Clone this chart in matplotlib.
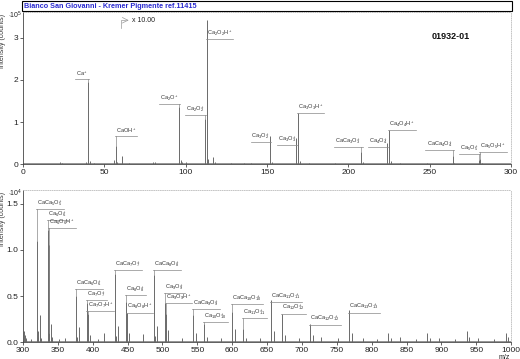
import matplotlib
matplotlib.use("Agg")
import matplotlib.pyplot as plt
from matplotlib.patches import Rectangle

plt.rcParams['font.family'] = ['Liberation Sans', 'DejaVu Sans']
plt.rcParams['mathtext.fontset'] = 'custom'
plt.rcParams['mathtext.rm'] = 'Liberation Sans'
plt.rcParams['mathtext.it'] = 'Liberation Sans'
plt.rcParams['mathtext.bf'] = 'Liberation Sans:bold'

# top panel spectrum, m/z 0-300, intensity in 1e5 counts
top_mz = [23, 24, 39, 40, 41, 44, 56, 57, 58, 61, 65, 80, 81, 96, 97, 98, 100,
          112, 113, 114, 117, 118, 128, 136, 140, 152, 153, 168, 169, 170, 176,
          192, 208, 209, 224, 225, 226, 232, 248, 264, 265, 280, 281, 282]
top_h = [0.04, 0.03, 0.06, 1.96, 0.08, 0.02, 0.10, 0.44, 0.05, 0.19, 0.03, 0.05,
         0.04, 1.35, 0.10, 0.05, 0.04, 1.08, 3.42, 0.12, 0.17, 0.05, 0.03, 0.03,
         0.02, 0.67, 0.06, 0.62, 1.22, 0.08, 0.02, 0.03, 0.29, 0.04, 0.50, 0.82,
         0.07, 0.03, 0.02, 0.18, 0.03, 0.10, 0.13, 0.03]

# bottom panel spectrum, m/z 300-1000, intensity in 1e4 counts
bot_mz = [301, 303, 305, 312, 320, 321, 322, 324, 326, 336, 337, 338, 340, 342,
          352, 360, 376, 377, 380, 392, 393, 396, 408, 416, 432, 433, 436, 448,
          449, 452, 472, 488, 489, 492, 504, 505, 508, 528, 544, 548, 560, 564,
          584, 600, 604, 616, 620, 640, 656, 660, 672, 676, 696, 712, 716, 728,
          752, 768, 772, 788, 808, 824, 828, 840, 864, 880, 884, 896, 920, 936,
          940, 952, 976, 992, 996]
bot_h = [0.12, 0.08, 0.05, 0.03, 1.10, 0.12, 0.06, 0.29, 0.05, 1.22, 1.05, 0.10,
         0.20, 0.06, 0.03, 0.04, 0.50, 0.06, 0.16, 0.42, 0.30, 0.08, 0.03, 0.10,
         0.74, 0.07, 0.17, 0.44, 0.32, 0.10, 0.09, 0.73, 0.07, 0.18, 0.42, 0.30,
         0.13, 0.05, 0.29, 0.10, 0.20, 0.06, 0.05, 0.33, 0.14, 0.14, 0.05, 0.04,
         0.46, 0.12, 0.31, 0.08, 0.04, 0.20, 0.08, 0.06, 0.05, 0.35, 0.10, 0.04,
         0.03, 0.10, 0.05, 0.06, 0.03, 0.10, 0.05, 0.04, 0.03, 0.12, 0.06, 0.04,
         0.03, 0.10, 0.06]

# peak labels: m/z, label height, text, side
top_lab_mz = [40, 57, 96, 112, 113, 152, 168, 169, 208, 224, 225, 264, 280, 281]
top_lab_y = [2.02, 0.67, 1.42, 1.17, 2.97, 0.52, 0.45, 1.22, 0.40, 0.41, 0.81,
             0.33, 0.24, 0.28]
top_lab_txt = ['Ca$^+$', 'CaOH$^+$', 'Ca$_2$O$^+$', 'Ca$_2$O$_2^+$',
               'Ca$_2$O$_2$H$^+$', 'Ca$_3$O$_2^+$', 'Ca$_3$O$_3^+$',
               'Ca$_3$O$_3$H$^+$', 'CaCa$_3$O$_3^+$', 'Ca$_4$O$_4^+$',
               'Ca$_4$O$_4$H$^+$', 'CaCa$_4$O$_4^+$', 'Ca$_5$O$_5^+$',
               'Ca$_5$O$_5$H$^+$']
top_lab_side = ['l', 'r', 'l', 'l', 'r', 'l', 'l', 'r', 'l', 'l', 'r', 'l', 'l', 'r']

bot_lab_mz = [320, 336, 338, 376, 392, 393, 432, 448, 449, 488, 504, 505, 544,
              560, 600, 616, 656, 672, 712, 768]
bot_lab_y = [1.44, 1.325, 1.235, 0.575, 0.457, 0.34, 0.78, 0.51, 0.32, 0.78, 0.53,
             0.42, 0.36, 0.22, 0.41, 0.26, 0.43, 0.31, 0.19, 0.32]
bot_lab_txt = ['CaCa$_5$O$_5^+$', 'Ca$_6$O$_6^+$', 'Ca$_6$O$_6$H$^+$',
               'CaCa$_6$O$_6^+$', 'Ca$_7$O$_7^+$', 'Ca$_7$O$_7$H$^+$',
               'CaCa$_7$O$_7^+$', 'Ca$_8$O$_8^+$', 'Ca$_8$O$_8$H$^+$',
               'CaCa$_8$O$_8^+$', 'Ca$_9$O$_9^+$', 'Ca$_9$O$_9$H$^+$',
               'CaCa$_9$O$_9^+$', 'Ca$_{10}$O$_{10}^+$', 'CaCa$_{10}$O$_{10}^+$',
               'Ca$_{11}$O$_{11}^+$', 'CaCa$_{11}$O$_{11}^+$', 'Ca$_{12}$O$_{12}^+$',
               'CaCa$_{12}$O$_{12}^+$', 'CaCa$_{13}$O$_{13}^+$']

line_col = '#6a6a6a'
lab_col = '#333333'

fig = plt.figure(figsize=(5.2, 3.59), dpi=100)
ax1 = fig.add_axes([0.044, 0.543, 0.939, 0.424])
ax2 = fig.add_axes([0.044, 0.047, 0.939, 0.424])


def style(ax):
    for s in ['top', 'right']:
        ax.spines[s].set_color('#bbbbbb')
        ax.spines[s].set_linestyle(':')
        ax.spines[s].set_linewidth(0.6)
    for s in ['left', 'bottom']:
        ax.spines[s].set_color('#444444')
        ax.spines[s].set_linewidth(0.6)
    ax.tick_params(labelsize=6, length=2, width=0.5, colors='#222222', pad=1.5)
    ax.set_ylabel('Intensity (counts)', fontsize=5, color='#333333', loc='top')
    ax.yaxis.set_label_coords(-0.035, 0.985)


def peaks(ax, mz, h):
    ax.vlines(mz, 0, h, color=line_col, lw=0.7)
    ax.axhline(0.008 * ax.get_ylim()[1], color=line_col, lw=0.5)


def labels(ax, mz, ly, txt, side, ph):
    fig.canvas.draw()
    inv = ax.transData.inverted()
    for m, y, t, s in zip(mz, ly, txt, side):
        ha = 'left' if s == 'r' else 'right'
        tx = ax.text(m, y, t, fontsize=4.1, color=lab_col, ha=ha, va='bottom')
        bb = tx.get_window_extent(renderer=fig.canvas.get_renderer())
        x0 = inv.transform((bb.x0, bb.y0))[0]
        x1 = inv.transform((bb.x1, bb.y0))[0]
        pad = (x1 - x0) * 0.05
        ax.plot([x0 - pad, x1 + pad], [y, y], color='#888888', lw=0.5)
        tx.set_y(y + 0.008 * ax.get_ylim()[1])
        top = ph.get(m, 0)
        if top < y:
            ax.plot([m, m], [top, y], color='#888888', lw=0.5)


# top panel
ax1.set_xlim(0, 300)
ax1.set_ylim(0, 3.62)
peaks(ax1, top_mz, top_h)
ax1.set_xticks([0, 50, 100, 150, 200, 250, 300])
ax1.set_yticks([0, 1, 2, 3])
style(ax1)
ax1.text(-0.002, 0.975, r'$\cdot10^5$', transform=ax1.transAxes, fontsize=5,
         ha='right', va='center', color='#222222')
ax1.plot([60, 60, 63], [3.24, 3.42, 3.42], color='#999999', lw=0.5)
ax1.annotate('', xy=(65, 3.42), xytext=(62, 3.42),
             arrowprops=dict(arrowstyle='->', color='#999999', lw=0.5))
ax1.text(67, 3.42, 'x 10.00', fontsize=5, va='center', color='#222222')
ax1.text(0.877, 0.84, '01932-01', transform=ax1.transAxes, fontsize=6.5,
         fontweight='bold', ha='center', va='center', color='#111111')
labels(ax1, top_lab_mz, top_lab_y, top_lab_txt, top_lab_side,
       dict(zip(top_mz, top_h)))

# bottom panel
ax2.set_xlim(300, 1000)
ax2.set_ylim(0, 1.65)
peaks(ax2, bot_mz, bot_h)
ax2.set_xticks(list(range(300, 1001, 50)))
ax2.set_yticks([0, 0.5, 1.0, 1.5])
ax2.set_yticklabels(['0.0', '0.5', '1.0', '1.5'])
style(ax2)
ax2.text(-0.002, 0.975, r'$\cdot10^4$', transform=ax2.transAxes, fontsize=5,
         ha='right', va='center', color='#222222')
ax2.text(0.998, -0.075, 'm/z', transform=ax2.transAxes, fontsize=5,
         ha='right', va='top', color='#222222')
labels(ax2, bot_lab_mz, bot_lab_y, bot_lab_txt, ['r'] * len(bot_lab_mz),
       dict(zip(bot_mz, bot_h)))

# title box
fig.patches.append(Rectangle((22 / 520, 1 - 11 / 359), 490 / 520, 10 / 359,
                             transform=fig.transFigure, facecolor='white',
                             edgecolor='black', lw=0.8))
fig.text(24 / 520, 1 - 6 / 359, 'Bianco San Giovanni - Kremer Pigmente ref.11415',
         fontsize=5.2, fontweight='bold', color='#2a2ad0', va='center')

fig.savefig('out.png', dpi=100)
